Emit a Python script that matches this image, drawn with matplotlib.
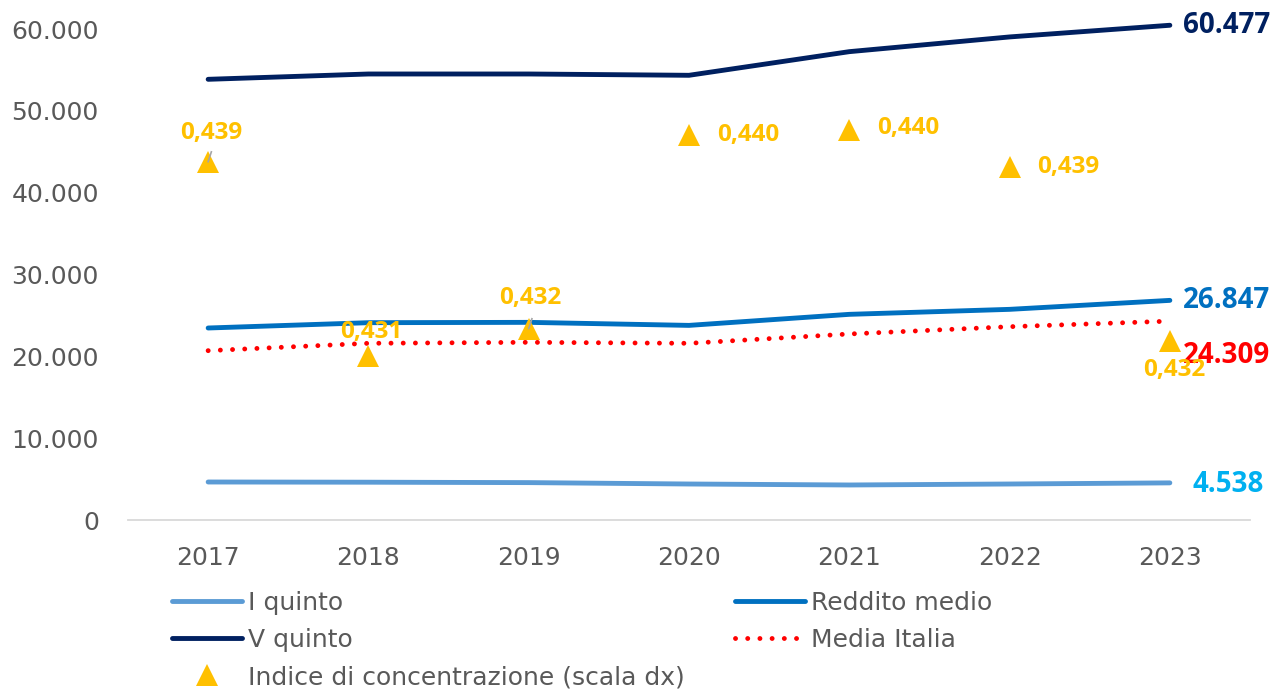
"""
Redditi per quintile 2017-2023 con indice di concentrazione (scala dx).
"""

import matplotlib
matplotlib.use("Agg")
import matplotlib.pyplot as plt
from matplotlib.lines import Line2D

# --- Data ---
years = ["2017", "2018", "2019", "2020", "2021", "2022", "2023"]
i_quinto = [4645, 4620, 4570, 4400, 4280, 4400, 4538]
reddito_medio = [23470, 24120, 24160, 23790, 25140, 25750, 26847]
v_quinto = [53870, 54520, 54520, 54360, 57250, 59050, 60477]
media_italia = [20700, 21600, 21720, 21600, 22740, 23630, 24309]
indice_conc = [0.4391, 0.4312, 0.4323, 0.4402, 0.4404, 0.4389, 0.4318]

# label offsets (points) for the concentration index labels
idx_offsets = [(2, 21), (2, 17), (1, 22), (40, 0), (40, 1), (41, 0), (3, -21)]

C_I = "#5B9BD5"
C_MEDIO = "#0070C0"
C_V = "#002060"
C_ITA = "#FF0000"
C_IDX = "#FFC000"
GREY = "#595959"

plt.rcParams["font.family"] = ["DejaVu Sans"]

fig = plt.figure(figsize=(12.72, 6.89), dpi=100)
ax = fig.add_axes([128 / 1272, 1 - 520 / 689, (1250 - 128) / 1272, (520 - 12.8) / 689])

x = list(range(len(years)))
lw = 3.5
dots = (0, (0.01, 2.5))
ax.plot(x, i_quinto, color=C_I, lw=lw, solid_capstyle="round", label="I quinto")
ax.plot(x, reddito_medio, color=C_MEDIO, lw=lw, solid_capstyle="round", label="Reddito medio")
ax.plot(x, v_quinto, color=C_V, lw=lw, solid_capstyle="round", label="V quinto")
ax.plot(x, media_italia, color=C_ITA, lw=3.5, dash_capstyle="round",
        linestyle=dots, label="Media Italia")

ax.set_xlim(-0.5, len(years) - 0.5)
ax.set_ylim(0, 62000)
ax.set_yticks(range(0, 60001, 10000))
ax.set_yticklabels([f"{v:,}".replace(",", ".") for v in range(0, 60001, 10000)])
ax.set_xticks(x)
ax.set_xticklabels(years)
ax.tick_params(axis="y", length=0, pad=21, labelsize=18, labelcolor=GREY)
ax.tick_params(axis="x", length=0, pad=19, labelsize=18, labelcolor=GREY)
for s in ["top", "right", "left"]:
    ax.spines[s].set_visible(False)
ax.spines["bottom"].set_color("#D9D9D9")
ax.spines["bottom"].set_linewidth(1.3)

# end-of-line value labels
bold = dict(family=["Open Sans", "DejaVu Sans"], fontweight="bold", fontsize=20)
ends = [
    (v_quinto, C_V, 0, 9.5),
    (reddito_medio, C_MEDIO, 0, 9.5),
    (media_italia, C_ITA, -25, 9.5),
    (i_quinto, "#00B0F0", -1, 16),
]
for series, col, dy, dx in ends:
    ax.annotate(f"{series[-1]:,}".replace(",", "."), (x[-1], series[-1]),
                xytext=(dx, dy), textcoords="offset points",
                ha="left", va="center", color=col, annotation_clip=False, **bold)

# concentration index on hidden right axis
ax2 = ax.twinx()
ax2.set_ylim(0.4245, 0.4245 + 62000 / 3e6)
ax2.axis("off")
ax2.plot(x, indice_conc, linestyle="none", marker="^", ms=16, color=C_IDX,
         markeredgewidth=0)
for i, (v, (dx, dy)) in enumerate(zip(indice_conc, idx_offsets)):
    ha = "left" if dx > 20 else "center"
    ax2.annotate(f"{v:.3f}".replace(".", ","), (i, v), xytext=(dx if ha == "center" else 20, dy),
                 textcoords="offset points", ha=ha, va="center", color=C_IDX,
                 family=["Open Sans", "DejaVu Sans"], fontweight="bold", fontsize=17.5,
                 annotation_clip=False)
# small leader lines
for i in (0, 2):
    ax2.plot([i, i + 0.02], [indice_conc[i], indice_conc[i] + 0.0004],
             color="#A6A6A6", lw=1.2)

# --- Legend ---
h_i = Line2D([], [], color=C_I, lw=lw, solid_capstyle="round")
h_v = Line2D([], [], color=C_V, lw=lw, solid_capstyle="round")
h_idx = Line2D([], [], linestyle="none", marker="^", ms=16, color=C_IDX, markeredgewidth=0)
h_m = Line2D([], [], color=C_MEDIO, lw=lw, solid_capstyle="round")
h_ita = Line2D([], [], color=C_ITA, lw=3.5, dash_capstyle="round", linestyle=dots)

leg_kw = dict(frameon=False, fontsize=18, handlelength=2.8, handletextpad=0.25,
              labelspacing=0.52, borderpad=0, borderaxespad=0, loc="upper left",
              labelcolor=GREY)
fig.legend([h_i, h_v, h_idx], ["I quinto", "V quinto", "Indice di concentrazione (scala dx)"],
           bbox_to_anchor=(172 / 1272, 1 - 591 / 689), **leg_kw)
fig.legend([h_m, h_ita], ["Reddito medio", "Media Italia"],
           bbox_to_anchor=(735 / 1272, 1 - 591 / 689), **leg_kw)

fig.savefig("out.png", dpi=100)
